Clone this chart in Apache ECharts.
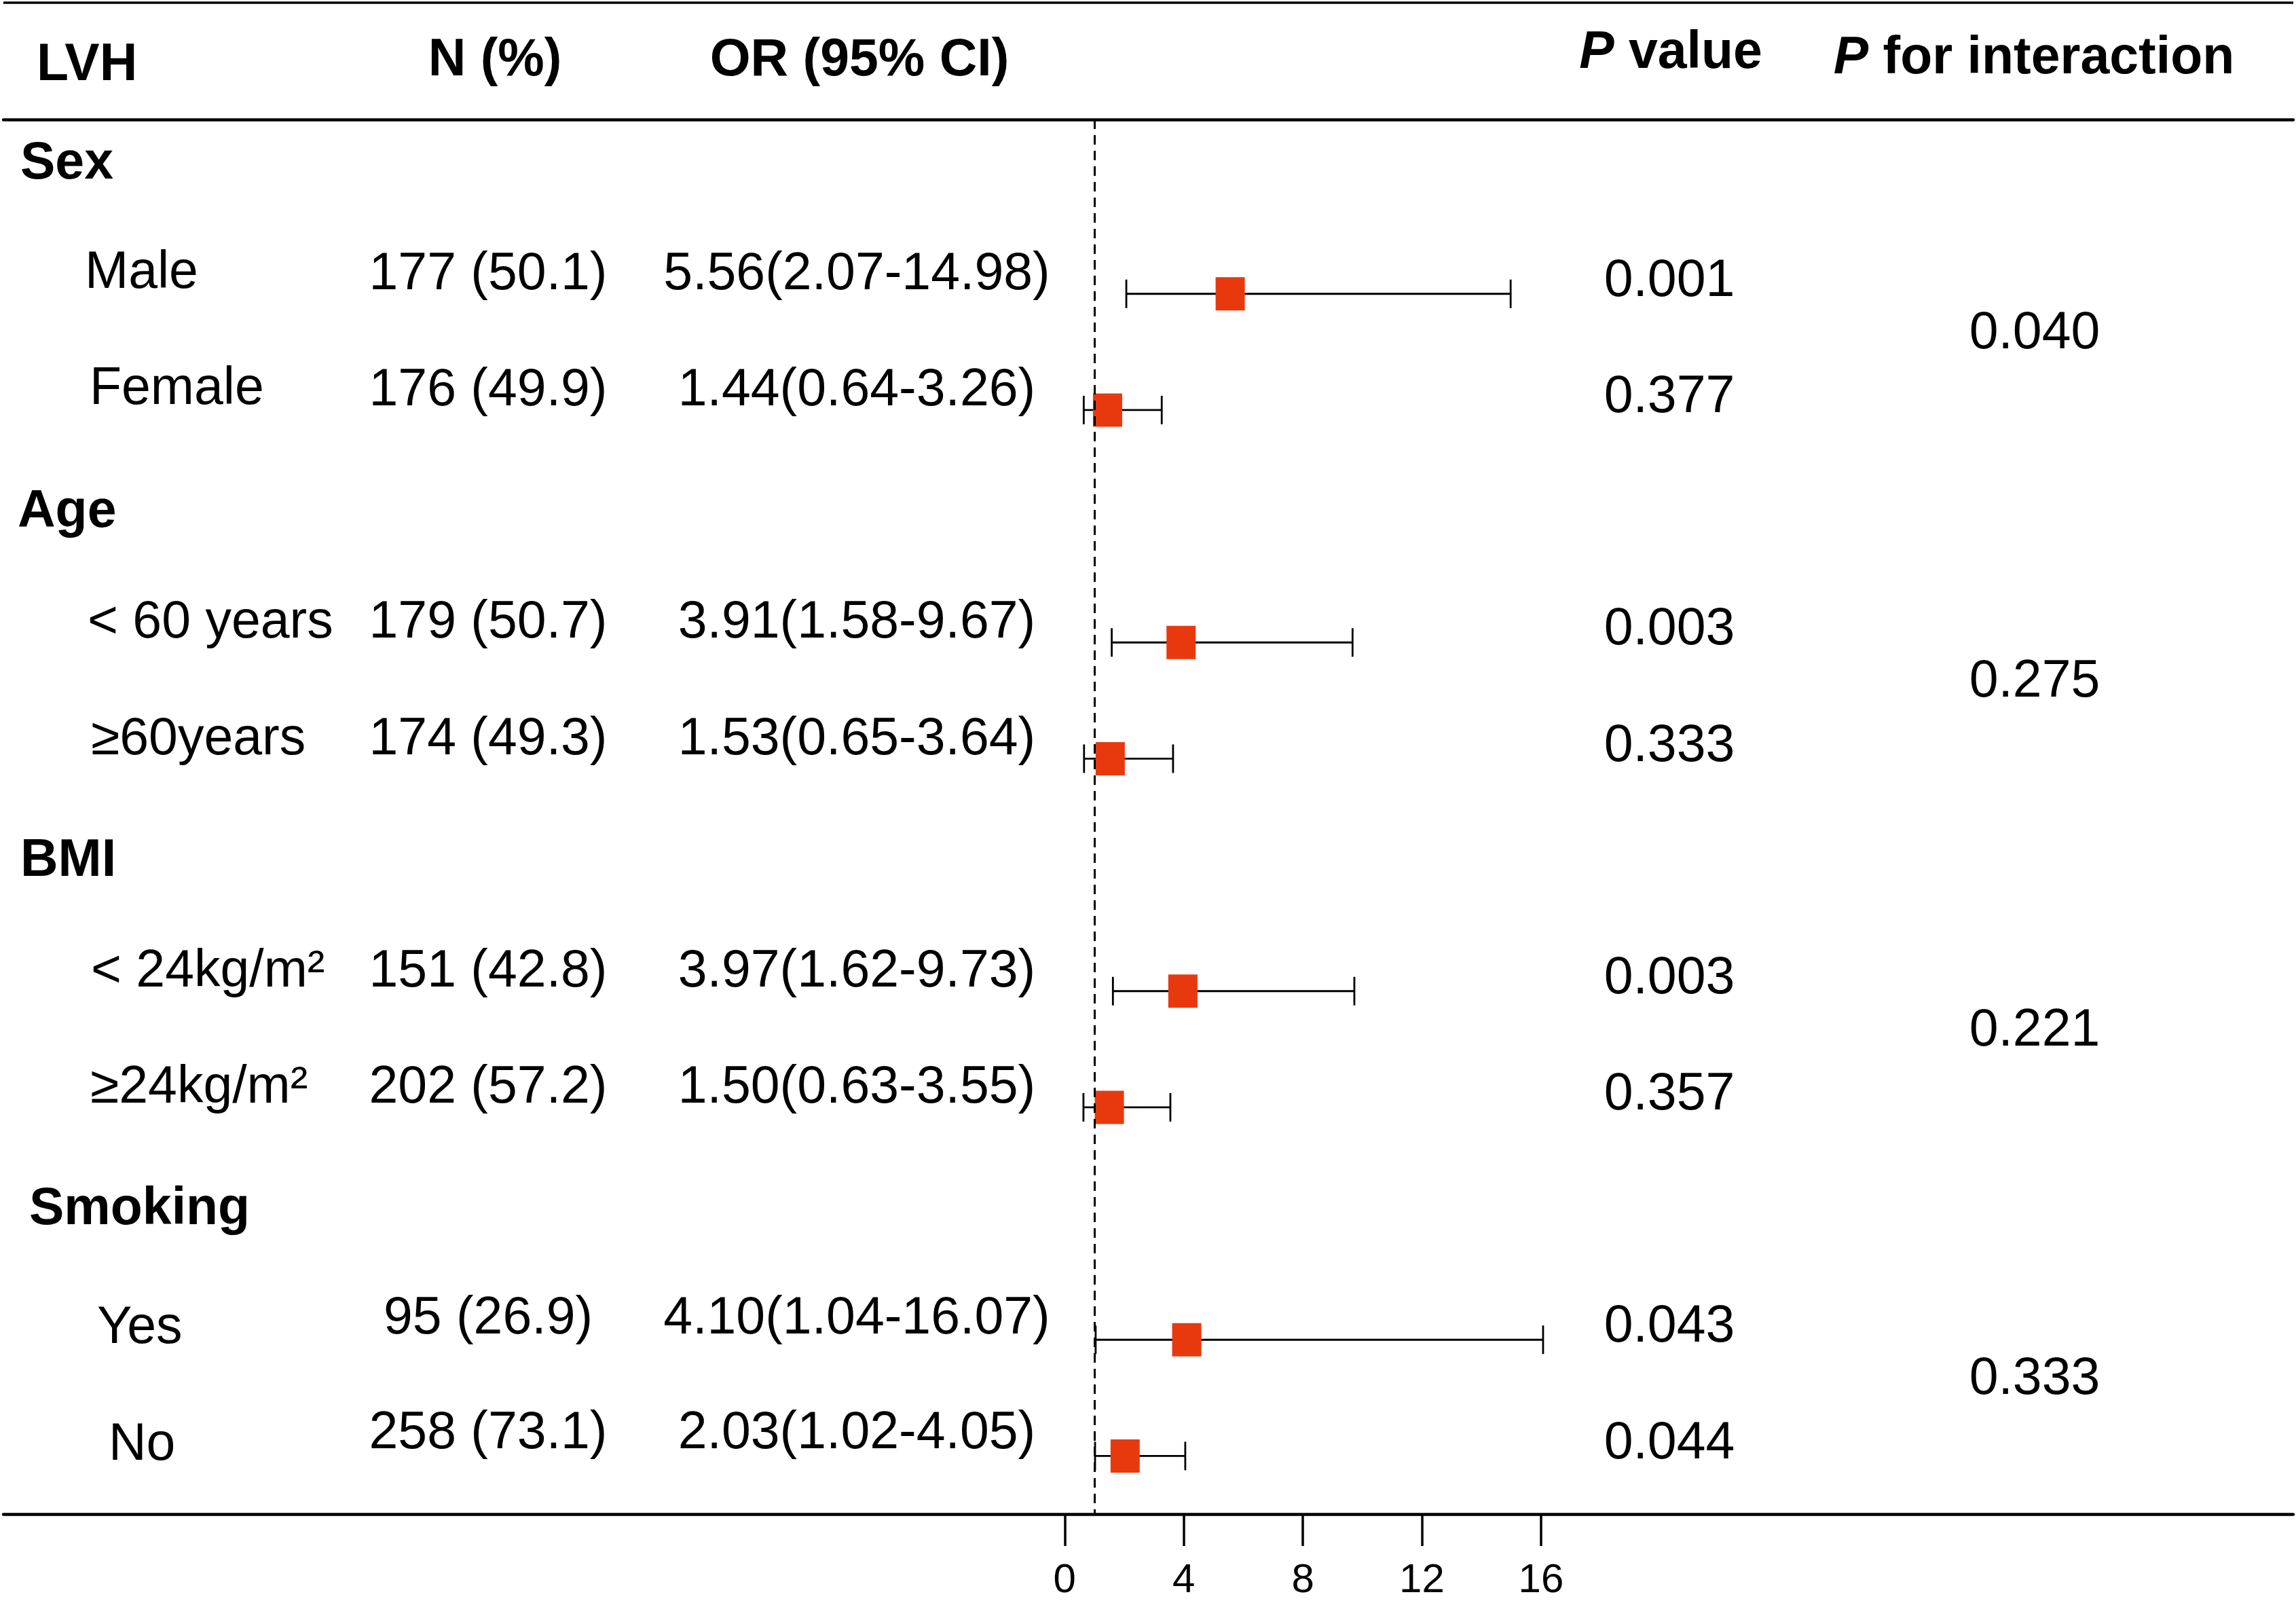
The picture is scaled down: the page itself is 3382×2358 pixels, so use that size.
<!DOCTYPE html>
<html lang="en">
<head>
<meta charset="utf-8">
<title>LVH subgroup forest plot</title>
<script src="https://cdn.jsdelivr.net/npm/echarts@6/dist/echarts.min.js"></script>
<style>
    html, body {margin: 0; padding: 0; background: #fff;}
    #chart {width: 3382px; height: 2358px;}
</style>
</head>
<body>
<div id="chart"></div>
<script>
    // ---- data ----
    const groups = ['Sex', 'Age', 'BMI', 'Smoking'];
    const groupRows = [0, 3, 6, 9];
    const subgroups = ['Male', 'Female', '< 60 years', '\u226560years', '< 24kg/m\u00b2', '\u226524kg/m\u00b2', 'Yes', 'No'];
    const subRows = [1, 2, 4, 5, 7, 8, 10, 11];
    const nPct = ['177 (50.1)', '176 (49.9)', '179 (50.7)', '174 (49.3)', '151 (42.8)', '202 (57.2)', '95 (26.9)', '258 (73.1)'];
    const orVal = [5.56, 1.44, 3.91, 1.53, 3.97, 1.50, 4.10, 2.03];
    const ciLow = [2.07, 0.64, 1.58, 0.65, 1.62, 0.63, 1.04, 1.02];
    const ciHigh = [14.98, 3.26, 9.67, 3.64, 9.73, 3.55, 16.07, 4.05];
    const pValue = ['0.001', '0.377', '0.003', '0.333', '0.003', '0.357', '0.043', '0.044'];
    const pInteraction = ['0.040', '0.275', '0.221', '0.333'];
    const xTicks = [0, 4, 8, 12, 16];
    const refLine = 1;

    // ---- layout ----
    const FONT = '"Liberation Sans", Arial, sans-serif';
    const FS = 77;
    const labelX = [125, 132, 129, 134, 134, 133, 143, 160];
    const labelDy = [-30, -30, -28, -28, -28, -28, -16, -16];
    const nDy = [-28, -28, -28, -28, -28, -28, -30, -33];
    const groupX = [30, 26, 30, 43];
    const colN = 719, colOR = 1262, colP = 2459, colPI = 2997;
    const xMin = -35.65, xMax = 41.27;

    const chart = echarts.init(document.getElementById('chart'));

    function txt(x, y, text, align, bold) {
        return {
            type: 'text',
            x: x, y: y,
            style: {
                text: text,
                fill: '#000',
                fontFamily: FONT,
                fontSize: FS,
                fontWeight: bold ? 'bold' : 'normal',
                align: align,
                verticalAlign: 'middle'
            }
        };
    }

    function header(x, y, text, align) {
        const t = txt(x, y, text, align, true);
        t.style.rich = {
            i: {fontFamily: FONT, fontSize: FS, fontWeight: 'bold', fontStyle: 'italic', fill: '#000'}
        };
        return t;
    }

    const option = {
        animation: false,
        backgroundColor: '#fff',
        grid: {left: 5, right: 4, top: 176, bottom: 128, outerBoundsMode: 'none'},
        xAxis: [{
            type: 'value',
            min: xMin, max: xMax,
            position: 'bottom',
            splitLine: {show: false},
            axisLine: {show: true, onZero: false, lineStyle: {color: '#000', width: 4.5}},
            axisTick: {show: true, customValues: xTicks, length: 47, lineStyle: {color: '#000', width: 3.5}},
            axisLabel: {show: true, customValues: xTicks, margin: 68, fontSize: 60, color: '#000', fontFamily: FONT}
        }, {
            type: 'value',
            min: xMin, max: xMax,
            position: 'top',
            splitLine: {show: false},
            axisLine: {show: true, onZero: false, lineStyle: {color: '#000', width: 4.5}},
            axisTick: {show: false},
            axisLabel: {show: false}
        }],
        yAxis: {
            type: 'value',
            min: -0.5, max: 11.5,
            inverse: true,
            show: false
        },
        graphic: [
            {type: 'line', shape: {x1: 5, y1: 4, x2: 3378, y2: 4}, style: {stroke: '#000', lineWidth: 3.5}},
            header(54, 97, 'LVH', 'left'),
            header(729, 90, 'N (%)', 'center'),
            header(1266, 90, 'OR (95% CI)', 'center'),
            header(2461, 79, '{i|P} value', 'center'),
            header(2996, 87, '{i|P} for interaction', 'center')
        ],
        series: [
            {
                // confidence intervals
                type: 'custom',
                xAxisIndex: 0,
                data: subRows.map((r, i) => [ciLow[i], ciHigh[i], r]),
                encode: {x: [0, 1], y: 2},
                z: 2,
                renderItem: function (params, api) {
                    const y = api.coord([0, api.value(2)])[1];
                    const x1 = api.coord([api.value(0), 0])[0];
                    const x2 = api.coord([api.value(1), 0])[0];
                    const st = {stroke: '#000', lineWidth: 2.8};
                    return {
                        type: 'group',
                        children: [
                            {type: 'line', shape: {x1: x1, y1: y, x2: x2, y2: y}, style: st},
                            {type: 'line', shape: {x1: x1, y1: y - 21, x2: x1, y2: y + 21}, style: st},
                            {type: 'line', shape: {x1: x2, y1: y - 21, x2: x2, y2: y + 21}, style: st}
                        ]
                    };
                }
            },
            {
                // odds ratios
                type: 'scatter',
                xAxisIndex: 0,
                data: subRows.map((r, i) => [orVal[i], r]),
                symbol: 'rect',
                symbolSize: [43, 49],
                itemStyle: {color: '#E8390E', opacity: 1},
                z: 3,
                markLine: {
                    silent: true,
                    symbol: ['none', 'none'],
                    label: {show: false},
                    lineStyle: {color: '#000', width: 3, type: [14, 9]},
                    data: [{xAxis: refLine}],
                    z: 4
                }
            },
            {
                // subgroup rows text
                type: 'custom',
                xAxisIndex: 0,
                data: subRows.map((r, i) => [0, r]),
                encode: {x: 0, y: 1},
                clip: false,
                renderItem: function (params, api) {
                    const i = params.dataIndex;
                    const y = api.coord([0, api.value(1)])[1];
                    const orText = orVal[i].toFixed(2) + '(' + ciLow[i].toFixed(2) + '-' + ciHigh[i].toFixed(2) + ')';
                    return {
                        type: 'group',
                        children: [
                            txt(labelX[i], y + labelDy[i], subgroups[i], 'left'),
                            txt(colN, y + nDy[i], nPct[i], 'center'),
                            txt(colOR, y + nDy[i], orText, 'center'),
                            txt(colP, y - 18, pValue[i], 'center')
                        ]
                    };
                }
            },
            {
                // group headers and interaction p values
                type: 'custom',
                xAxisIndex: 0,
                data: groupRows.map(r => [0, r]),
                encode: {x: 0, y: 1},
                clip: false,
                renderItem: function (params, api) {
                    const i = params.dataIndex;
                    const y = api.coord([0, api.value(1)])[1];
                    const yMid = api.coord([0, api.value(1) + 1.5])[1];
                    return {
                        type: 'group',
                        children: [
                            txt(groupX[i], y - 20, groups[i], 'left', true),
                            txt(colPI, yMid - 27, pInteraction[i], 'center')
                        ]
                    };
                }
            }
        ]
    };
    chart.setOption(option);
</script>
</body>
</html>
